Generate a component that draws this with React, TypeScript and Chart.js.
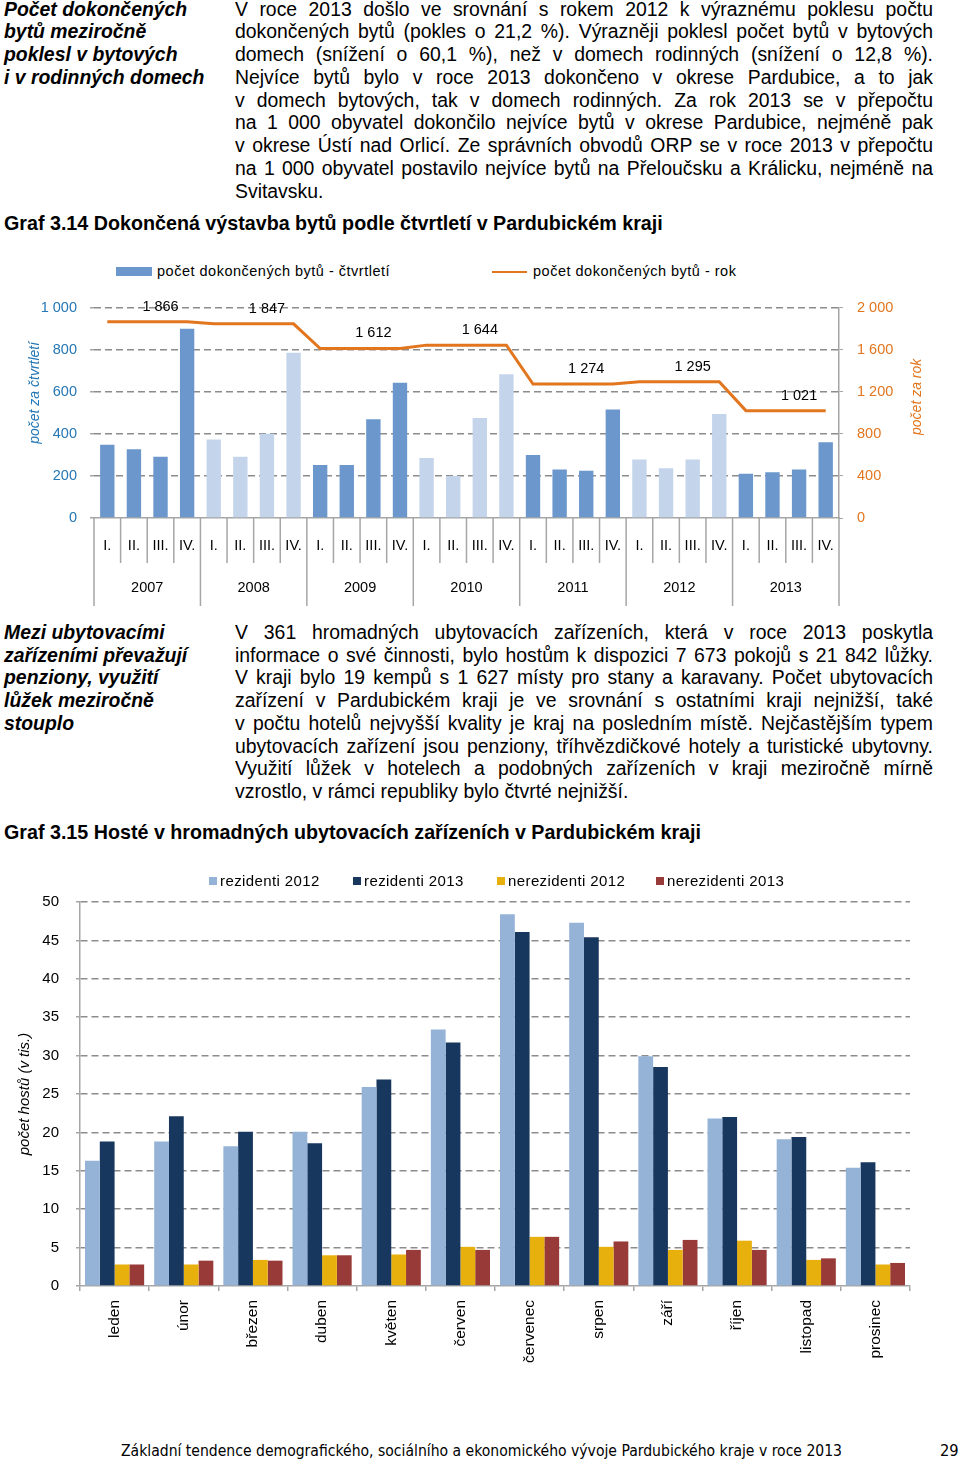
import React, { useEffect, useRef } from 'react';
import { Chart, registerables } from 'chart.js';

Chart.register(...registerables);

const FONT = '"Liberation Sans", Arial, Helvetica, sans-serif';
const NARROW = '"Liberation Sans Narrow", "Arial Narrow", "DejaVu Sans Condensed", sans-serif';
Chart.defaults.font.family = FONT;

// ---------- Graf 3.14 data ----------
const years = ['2007', '2008', '2009', '2010', '2011', '2012', '2013'];
const quarters = ['I.', 'II.', 'III.', 'IV.'];
const quarterlyFlats = [
  348, 327, 291, 900,
  373, 291, 401, 786,
  252, 252, 469, 643,
  285, 200, 475, 684,
  299, 231, 225, 516,
  278, 237, 278, 495,
  211, 217, 231, 360,
];
const annualFlats = [1866, 1847, 1612, 1644, 1274, 1295, 1021];
const legend1 = ['počet dokončených bytů - čtvrtletí', 'počet dokončených bytů - rok'];
const leftTitle1 = 'počet za čtvrtletí';
const rightTitle1 = 'počet za rok';

// ---------- Graf 3.15 data ----------
const months = ['leden', 'únor', 'březen', 'duben', 'květen', 'červen', 'červenec', 'srpen', 'září', 'říjen', 'listopad', 'prosinec'];
const residents2012 = [16.3, 18.8, 18.2, 20.1, 25.9, 33.4, 48.4, 47.3, 29.9, 21.8, 19.1, 15.4];
const residents2013 = [18.8, 22.1, 20.1, 18.6, 26.9, 31.7, 46.1, 45.4, 28.5, 22.0, 19.4, 16.1];
const nonResidents2012 = [2.8, 2.8, 3.4, 4.0, 4.1, 5.1, 6.4, 5.1, 4.7, 5.9, 3.4, 2.8];
const nonResidents2013 = [2.8, 3.3, 3.3, 4.0, 4.7, 4.7, 6.4, 5.8, 6.0, 4.7, 3.6, 3.0];
const legend2 = ['rezidenti 2012', 'rezidenti 2013', 'nerezidenti 2012', 'nerezidenti 2013'];
const yTitle2 = 'počet hostů (v tis.)';

// ---------- colours ----------
const BAR_DARK = '#6B97CC';
const BAR_LIGHT = '#C4D5EB';
const ORANGE = '#E2761F';
const BLUE_TEXT = '#2577B5';
const GRID = '#8C8C8C';
const AXIS = '#A6A6A6';
const C_R12 = '#95B3D7';
const C_R13 = '#17375E';
const C_N12 = '#E8B00C';
const C_N13 = '#983A37';
const TRANSPARENT = 'rgba(0,0,0,0)';

const fmt = (v: number) => {
  const s = String(Math.round(v));
  return s.length > 3 ? s.slice(0, -3) + ' ' + s.slice(-3) : s;
};

function QuarterChart() {
  const ref = useRef<HTMLCanvasElement>(null);
  useEffect(() => {
    const labels = years.flatMap(() => quarters);
    const lineData = years.flatMap((_, k) => quarters.map(() => annualFlats[k]));
    const barColors = years.flatMap((_, k) => quarters.map(() => (k % 2 === 0 ? BAR_DARK : BAR_LIGHT)));

    const decor = {
      id: 'decor1',
      afterDraw(chart: any) {
        const { ctx, chartArea } = chart;
        const xs = chart.scales.x;
        const yr = chart.scales.y1;
        const n = labels.length;
        ctx.save();
        ctx.strokeStyle = AXIS;
        ctx.lineWidth = 1.5;
        for (let i = 0; i <= n; i++) {
          const px = i === 0 ? chartArea.left : i === n ? chartArea.right
            : (xs.getPixelForValue(i - 1) + xs.getPixelForValue(i)) / 2;
          const len = i % quarters.length === 0 ? 88 : 45;
          ctx.beginPath();
          ctx.moveTo(px, chartArea.bottom);
          ctx.lineTo(px, chartArea.bottom + len);
          ctx.stroke();
        }
        ctx.fillStyle = '#000';
        ctx.textAlign = 'center';
        ctx.textBaseline = 'middle';
        ctx.font = `14.5px ${FONT}`;
        years.forEach((y, k) => {
          const px = (xs.getPixelForValue(4 * k + 1) + xs.getPixelForValue(4 * k + 2)) / 2;
          ctx.fillText(y, px, chartArea.bottom + 70);
        });
        ctx.font = `14.5px ${FONT}`;
        annualFlats.forEach((v, k) => {
          const px = xs.getPixelForValue(4 * k + 2);
          const py = yr.getPixelForValue(v) - 15;
          ctx.fillText(fmt(v), px, py);
        });
        const midY = (chartArea.top + chartArea.bottom) / 2;
        ctx.font = `italic 14px ${FONT}`;
        ctx.fillStyle = BLUE_TEXT;
        ctx.save();
        ctx.translate(35, midY - 20);
        ctx.rotate(-Math.PI / 2);
        ctx.fillText(leftTitle1, 0, 0);
        ctx.restore();
        ctx.fillStyle = ORANGE;
        ctx.save();
        ctx.translate(917, midY - 16);
        ctx.rotate(-Math.PI / 2);
        ctx.fillText(rightTitle1, 0, 0);
        ctx.restore();
        ctx.restore();
      },
    };

    const chart = new Chart(ref.current!, {
      type: 'bar',
      data: {
        labels,
        datasets: [
          {
            type: 'line',
            label: legend1[1],
            data: lineData,
            yAxisID: 'y1',
            borderColor: ORANGE,
            borderWidth: 3,
            pointRadius: 0,
            tension: 0,
            order: 0,
          } as any,
          {
            type: 'bar',
            label: legend1[0],
            data: quarterlyFlats,
            yAxisID: 'y',
            backgroundColor: barColors,
            barPercentage: 0.54,
            categoryPercentage: 1,
            order: 1,
          },
        ],
      },
      options: {
        responsive: false,
        animation: false,
        layout: { padding: { top: 21, bottom: 0, left: 0, right: 0 } },
        plugins: { legend: { display: false }, tooltip: { enabled: false } },
        scales: {
          x: {
            offset: true,
            grid: { display: false, drawTicks: false },
            border: { display: true, color: AXIS, width: 1.5 },
            ticks: { autoSkip: false, maxRotation: 0, padding: 19, color: '#000', font: { size: 14.5 } },
            afterFit: (s: any) => { s.height = 92; },
          },
          y: {
            position: 'left',
            min: 0,
            max: 1000,
            ticks: { stepSize: 200, padding: 13, color: BLUE_TEXT, font: { size: 14.5 }, callback: (v: any) => fmt(Number(v)) },
            grid: {
              color: (c: any) => (c.tick && c.tick.value === 0 ? TRANSPARENT : GRID),
              tickColor: AXIS,
              lineWidth: 1.5,
              tickLength: 4,
              tickBorderDash: [],
            },
            border: { display: false, dash: [7, 4] },
            afterFit: (s: any) => { s.width = 94; },
          },
          y1: {
            position: 'right',
            min: 0,
            max: 2000,
            ticks: { stepSize: 400, padding: 14, color: ORANGE, font: { size: 14.5 }, callback: (v: any) => fmt(Number(v)) },
            grid: { drawOnChartArea: false, tickLength: 4, color: AXIS },
            border: { display: true, color: AXIS, width: 1.5 },
            afterFit: (s: any) => { s.width = 121; },
          },
        },
      },
      plugins: [decor],
    });
    return () => chart.destroy();
  }, []);
  return (
    <canvas ref={ref} width={960} height={325}
      style={{ position: 'absolute', left: 0, top: 285, width: 960, height: 325 }} />
  );
}

function GuestChart() {
  const ref = useRef<HTMLCanvasElement>(null);
  useEffect(() => {
    const mk = (label: string, data: number[], color: string) => ({
      label, data, backgroundColor: color, barPercentage: 1, categoryPercentage: 0.855,
    });
    const chart = new Chart(ref.current!, {
      type: 'bar',
      data: {
        labels: months,
        datasets: [
          mk(legend2[0], residents2012, C_R12),
          mk(legend2[1], residents2013, C_R13),
          mk(legend2[2], nonResidents2012, C_N12),
          mk(legend2[3], nonResidents2013, C_N13),
        ],
      },
      options: {
        responsive: false,
        animation: false,
        layout: { padding: { top: 32, bottom: 0, left: 0, right: 50 } },
        plugins: { legend: { display: false }, tooltip: { enabled: false } },
        scales: {
          x: {
            offset: true,
            grid: { display: true, drawOnChartArea: false, drawTicks: true, tickLength: 5, color: AXIS, lineWidth: 1.5, offset: true },
            border: { display: true, color: AXIS, width: 1.5 },
            ticks: { autoSkip: false, minRotation: 90, maxRotation: 90, padding: 9, color: '#000', font: { size: 15.5 } },
            afterFit: (s: any) => { s.height = 94; },
          },
          y: {
            min: 0,
            max: 50,
            ticks: { stepSize: 5, padding: 17, color: '#000', font: { size: 15 } },
            grid: {
              color: (c: any) => (c.tick && c.tick.value === 0 ? TRANSPARENT : GRID),
              tickColor: AXIS,
              lineWidth: 1.5,
              tickLength: 4,
              tickBorderDash: [],
            },
            border: { display: true, color: AXIS, width: 1.5, dash: [7, 4] },
            title: { display: true, text: yTitle2, color: '#000', font: { size: 15, style: 'italic' }, padding: { top: 16, bottom: 0 } },
            afterFit: (s: any) => { s.width = 80; },
          },
        },
      },
    });
    return () => chart.destroy();
  }, []);
  return (
    <canvas ref={ref} width={960} height={510}
      style={{ position: 'absolute', left: 0, top: 870, width: 960, height: 510 }} />
  );
}

const LH = 22.75;
const FS = 19.4;

function TextLines({ lines, top, left, width, justify = true, style = {} }: any) {
  return (
    <>
      {lines.map((t: string, i: number) => {
        const last = i === lines.length - 1;
        return (
          <div key={i} style={{
            position: 'absolute', left, top: top + i * LH, width, height: LH, lineHeight: `${LH}px`,
            fontSize: FS, textAlign: justify ? 'justify' : 'left',
            textAlignLast: justify && !last ? 'justify' : 'left', whiteSpace: justify ? 'normal' : 'nowrap',
            overflow: 'visible', ...style,
          } as any}>{t}</div>
        );
      })}
    </>
  );
}

const head1 = ['Počet dokončených', 'bytů meziročně', 'poklesl v bytových', 'i v rodinných domech'];
const body1 = [
  'V roce 2013 došlo ve srovnání s rokem 2012 k výraznému poklesu počtu',
  'dokončených bytů (pokles o 21,2 %). Výrazněji poklesl počet bytů v bytových',
  'domech (snížení o 60,1 %), než v domech rodinných (snížení o 12,8 %).',
  'Nejvíce bytů bylo v roce 2013 dokončeno v okrese Pardubice, a to jak',
  'v domech bytových, tak v domech rodinných. Za rok 2013 se v přepočtu',
  'na 1 000 obyvatel dokončilo nejvíce bytů v okrese Pardubice, nejméně pak',
  'v okrese Ústí nad Orlicí. Ze správních obvodů ORP se v roce 2013 v přepočtu',
  'na 1 000 obyvatel postavilo nejvíce bytů na Přeloučsku a Králicku, nejméně na',
  'Svitavsku.',
];
const head2 = ['Mezi ubytovacími', 'zařízeními převažují', 'penziony, využití', 'lůžek meziročně', 'stouplo'];
const body2 = [
  'V 361 hromadných ubytovacích zařízeních, která v roce 2013 poskytla',
  'informace o své činnosti, bylo hostům k dispozici 7 673 pokojů s 21 842 lůžky.',
  'V kraji bylo 19 kempů s 1 627 místy pro stany a karavany. Počet ubytovacích',
  'zařízení v Pardubickém kraji je ve srovnání s ostatními kraji nejnižší, také',
  'v počtu hotelů nejvyšší kvality je kraj na posledním místě. Nejčastějším typem',
  'ubytovacích zařízení jsou penziony, tříhvězdičkové hotely a turistické ubytovny.',
  'Využití lůžek v hotelech a podobných zařízeních v kraji meziročně mírně',
  'vzrostlo, v rámci republiky bylo čtvrté nejnižší.',
];
const graf1Title = 'Graf 3.14 Dokončená výstavba bytů podle čtvrtletí v Pardubickém kraji';
const graf2Title = 'Graf 3.15 Hosté v hromadných ubytovacích zařízeních v Pardubickém kraji';
const footer = 'Základní tendence demografického, sociálního a ekonomického vývoje Pardubického kraje v roce 2013';
const pageNo = '29';

export default function App() {
  const headStyle = { fontWeight: 'bold', fontStyle: 'italic' };
  const leg2Pos = [209, 353, 497, 656];
  const leg2Colors = [C_R12, C_R13, C_N12, C_N13];
  return (
    <div style={{ position: 'absolute', left: 0, top: 0, width: 960, height: 1461, background: '#fff', fontFamily: FONT, color: '#000', overflow: 'hidden' }}>
      <TextLines lines={head1} top={-2.5} left={4} width={225} justify={false} style={headStyle} />
      <TextLines lines={body1} top={-2.5} left={235} width={698} />
      <div style={{ position: 'absolute', left: 4, top: 212, lineHeight: `${LH}px`, fontSize: 19.7, fontWeight: 'bold', whiteSpace: 'nowrap' }}>{graf1Title}</div>

      {/* legend of Graf 3.14 */}
      <div style={{ position: 'absolute', left: 116, top: 267, width: 36, height: 9, background: BAR_DARK }} />
      <div style={{ position: 'absolute', left: 157, top: 262, lineHeight: '18px', fontSize: 14.5, letterSpacing: 0.5, whiteSpace: 'nowrap' }}>{legend1[0]}</div>
      <div style={{ position: 'absolute', left: 492, top: 271, width: 35, height: 2, background: ORANGE }} />
      <div style={{ position: 'absolute', left: 533, top: 262, lineHeight: '18px', fontSize: 14.5, letterSpacing: 0.5, whiteSpace: 'nowrap' }}>{legend1[1]}</div>

      <QuarterChart />

      <TextLines lines={head2} top={620.8} left={4} width={225} justify={false} style={headStyle} />
      <TextLines lines={body2} top={620.8} left={235} width={698} />
      <div style={{ position: 'absolute', left: 4, top: 820.8, lineHeight: `${LH}px`, fontSize: 19.7, fontWeight: 'bold', whiteSpace: 'nowrap' }}>{graf2Title}</div>

      <GuestChart />

      {/* legend of Graf 3.15 */}
      {legend2.map((t, i) => (
        <React.Fragment key={t}>
          <div style={{ position: 'absolute', left: leg2Pos[i], top: 877, width: 8, height: 8, background: leg2Colors[i] }} />
          <div style={{ position: 'absolute', left: leg2Pos[i] + 11, top: 872, lineHeight: '18px', fontSize: 15, letterSpacing: 0.4, whiteSpace: 'nowrap' }}>{t}</div>
        </React.Fragment>
      ))}

      <div style={{ position: 'absolute', left: 121, top: 1441, lineHeight: '20px', fontSize: 16.3, fontFamily: NARROW, whiteSpace: 'nowrap', transform: 'scaleX(0.956)', transformOrigin: 'left center' }}>{footer}</div>
      <div style={{ position: 'absolute', left: 940, top: 1441, lineHeight: '20px', fontSize: 16.3, fontFamily: NARROW, whiteSpace: 'nowrap' }}>{pageNo}</div>
    </div>
  );
}
